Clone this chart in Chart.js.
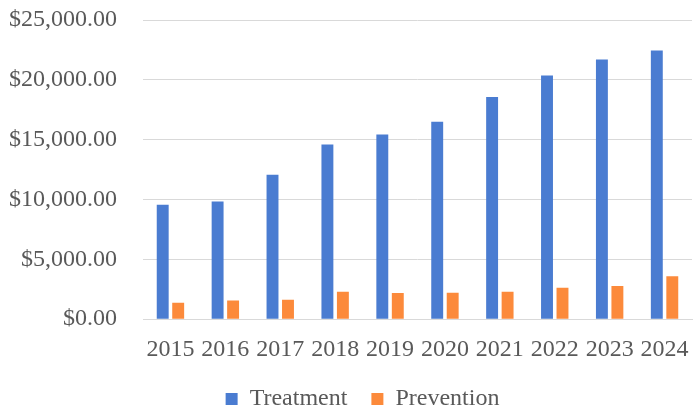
<!DOCTYPE html>
<html>
<head>
<meta charset="utf-8">
<script src="https://cdn.jsdelivr.net/npm/chart.js@4"></script>
<style>
  html, body { margin: 0; padding: 0; background: #ffffff; }
  #wrap { width: 694px; height: 408px; }
</style>
</head>
<body>
<div id="wrap"><canvas id="c" width="694" height="408"></canvas></div>
<script>
// Annual spending, in dollars
const years = ['2015', '2016', '2017', '2018', '2019', '2020', '2021', '2022', '2023', '2024'];
const treatment = [9560, 9840, 12080, 14600, 15440, 16500, 18570, 20360, 21700, 22460];
const prevention = [1370, 1570, 1620, 2290, 2180, 2210, 2290, 2630, 2770, 3580];

const textColor = '#595959';
const fontFamily = '"Liberation Serif", "Times New Roman", serif';
const clear = 'rgba(0,0,0,0)';

function money(v) {
  return '$' + Number(v).toLocaleString('en-US', { minimumFractionDigits: 2, maximumFractionDigits: 2 });
}

// nudge the legend block a little to the right of the canvas centre
const legendNudge = {
  id: 'legendNudge',
  afterLayout(chart) {
    if (chart.legend) {
      chart.legend.left += 12;
      chart.legend.right += 12;
    }
  }
};

new Chart(document.getElementById('c'), {
  type: 'bar',
  data: {
    labels: years,
    datasets: [
      { label: 'Treatment', data: treatment, backgroundColor: '#4a7cd1', borderWidth: 0 },
      { label: 'Prevention', data: prevention, backgroundColor: '#fc8a3b', borderWidth: 0 }
    ]
  },
  options: {
    responsive: false,
    animation: false,
    datasets: { bar: { categoryPercentage: 0.564, barPercentage: 0.77 } },
    layout: { padding: { top: 20, right: 2, left: 9, bottom: -13 } },
    scales: {
      x: {
        // invisible tick marks provide the gap between axis and labels
        grid: { display: false, drawTicks: true, tickLength: 16, tickColor: clear },
        border: { display: true, color: '#d9d9d9', width: 1 },
        ticks: { color: textColor, font: { family: fontFamily, size: 24 }, padding: 0, maxRotation: 0, autoSkip: false },
        afterFit(scale) { scale.height -= 1; }
      },
      y: {
        min: 0,
        max: 25000,
        grid: { color: '#d9d9d9', lineWidth: 1, drawTicks: true, tickLength: 26, tickColor: clear },
        border: { display: false },
        ticks: { stepSize: 5000, color: textColor, font: { family: fontFamily, size: 24 }, padding: 0, callback: money }
      }
    },
    plugins: {
      legend: {
        position: 'bottom',
        labels: {
          color: textColor,
          font: { family: fontFamily, size: 24 },
          boxWidth: 12,
          boxHeight: 12,
          padding: 24,
          useBorderRadius: false
        }
      },
      tooltip: { enabled: false }
    }
  },
  plugins: [legendNudge]
});
</script>
</body>
</html>
